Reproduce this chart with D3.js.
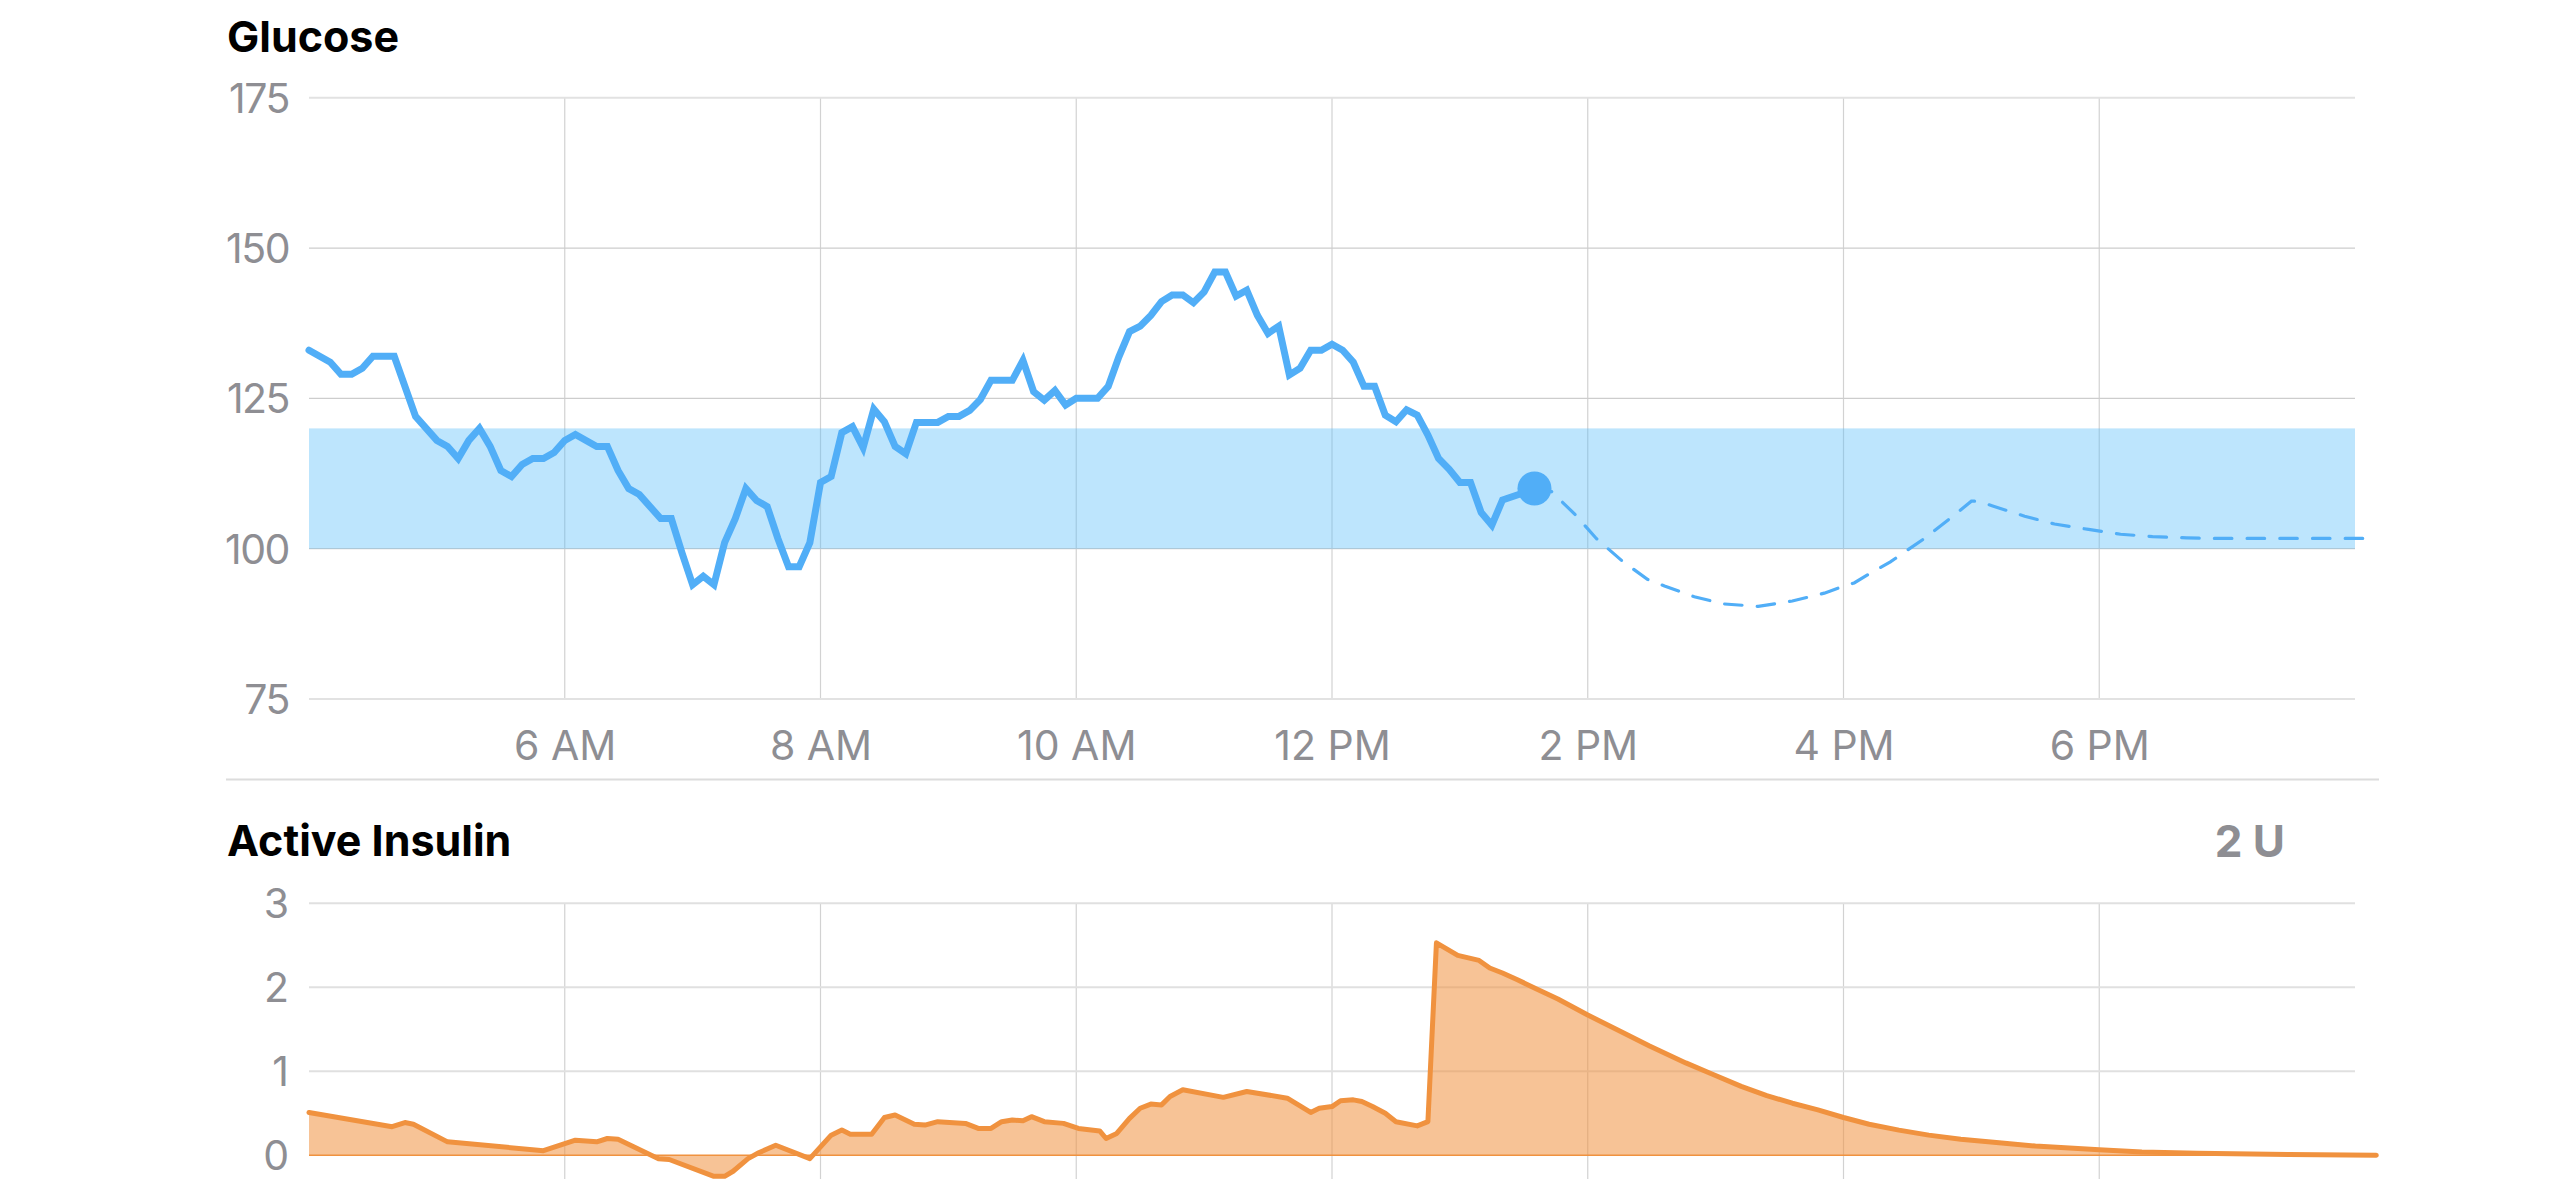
<!DOCTYPE html>
<html>
<head>
<meta charset="utf-8">
<script src="https://cdn.jsdelivr.net/npm/d3@7/dist/d3.min.js"></script>
<style>
  html, body { margin: 0; padding: 0; background: #ffffff; }
  svg { display: block; }
  text { font-family: Inter, "Noto Sans", "DejaVu Sans", sans-serif; }
</style>
</head>
<body>
<svg id="chart" width="2556" height="1179"></svg>
<script>
// ---------------- DATA ----------------
const glucoseTimes = ["04:00","04:10","04:15","04:20","04:25","04:30","04:35","04:40","04:50","05:00",
  "05:05","05:10","05:15","05:20","05:25","05:30","05:35","05:40","05:45","05:50",
  "05:55","06:00","06:05","06:15","06:20","06:25","06:30","06:35","06:45","06:50",
  "06:55","07:00","07:05","07:10","07:15","07:20","07:25","07:30","07:35","07:40",
  "07:45","07:50","07:55","08:00","08:05","08:10","08:15","08:20","08:25","08:30",
  "08:35","08:40","08:45","08:55","09:00","09:05","09:10","09:15","09:20","09:30",
  "09:35","09:40","09:45","09:50","09:55","10:00","10:10","10:15","10:20","10:25",
  "10:30","10:35","10:40","10:45","10:50","10:55","11:00","11:05","11:10","11:15",
  "11:20","11:25","11:30","11:35","11:40","11:45","11:50","11:55","12:00","12:05",
  "12:10","12:15","12:20","12:25","12:30","12:35","12:40","12:45","12:50","12:55",
  "13:00","13:05","13:10","13:15","13:20","13:30","13:35"];
const glucoseValues = [133,131,129,129,130,132,132,132,122,118,
  117,115,118,120,117,113,112,114,115,115,
  116,118,119,117,117,113,110,109,105,105,
  99.3,94,95.4,94,101,105,110,108,107,101.7,
  97,97,101,111,112,119.3,120.3,116.8,123.2,121.1,
  117,115.8,121,121,122,122,123,124.8,128,128,
  131.3,126.1,124.7,126.3,123.9,125,125,127,131.9,136.1,
  137,138.8,141.1,142.2,142.2,140.9,142.7,146,146,142,
  143,138.8,135.8,137,128.9,130,133,133,134,133,
  131,127,127,122.2,121.1,123.1,122.2,118.9,115,113.2,
  111,111,106,103.9,108.1,109.3,110];

const predictionTimes = ["13:35","13:43","13:54","14:04","14:16","14:28","14:36","14:50","15:04","15:20",
  "15:36","15:51","15:58","16:05","16:12","16:22","16:31","16:38","16:51","17:00",
  "17:03","17:10","17:25","17:39","17:55","18:10","18:25","18:41","18:55","20:07"];
const predictionValues = [110,109.5,105.7,101.7,98.0,94.9,93.8,92.0,90.8,90.4,
  91.3,92.6,93.5,94.3,95.8,97.8,100.0,101.7,105.3,107.9,
  107.9,107.1,105.4,104.1,103.2,102.4,102.0,101.8,101.7,101.7];

const insulinTimes = ["04:00","04:39","04:45","04:49","05:05","05:50","06:05","06:15","06:20","06:25",
  "06:44","06:49","07:10","07:15","07:19","07:26","07:31","07:39","07:55","08:05",
  "08:10","08:14","08:24","08:30","08:35","08:44","08:49","08:55","09:08","09:14",
  "09:20","09:25","09:30","09:35","09:39","09:45","09:54","10:01","10:11","10:14",
  "10:19","10:25","10:30","10:35","10:40","10:44","10:50","11:09","11:20","11:39",
  "11:50","11:54","12:00","12:04","12:10","12:14","12:19","12:25","12:30","12:40",
  "12:45","12:49","12:59","13:09","13:14","13:20","13:27","13:36","13:46","14:00",
  "14:15","14:29","14:46","14:58","15:12","15:24","15:36","15:48","16:00","16:12",
  "16:26","16:40","16:55","17:13","17:30","17:44","18:00","18:20","18:46","19:29","20:10"];
const insulinValues = [0.51,0.34,0.39,0.37,0.16,0.055,0.18,0.16,0.20,0.19,
  -0.04,-0.05,-0.25,-0.25,-0.19,-0.04,0.03,0.12,-0.04,0.24,
  0.30,0.25,0.25,0.45,0.48,0.37,0.36,0.40,0.38,0.32,
  0.32,0.40,0.42,0.41,0.46,0.40,0.38,0.32,0.29,0.20,
  0.26,0.44,0.56,0.61,0.60,0.70,0.78,0.69,0.76,0.68,
  0.51,0.56,0.58,0.65,0.66,0.64,0.58,0.50,0.40,0.35,
  0.40,2.53,2.38,2.32,2.23,2.17,2.09,1.98,1.86,1.67,
  1.48,1.30,1.10,0.97,0.82,0.71,0.62,0.54,0.45,0.37,
  0.30,0.24,0.19,0.15,0.11,0.09,0.065,0.04,0.025,0.01,0.0];

const timeDomain = ["04:00","20:00"];
const xTickTimes = ["06:00","08:00","10:00","12:00","14:00","16:00","18:00"];
const xTickLabels = ["6 AM","8 AM","10 AM","12 PM","2 PM","4 PM","6 PM"];
const glucoseTicks = [75,100,125,150,175];
const glucoseDomain = [75,175];
const targetRange = [100,120];
const insulinTicks = [0,1,2,3];
const insulinDomain = [0,3];
const currentTime = "13:35";
const currentGlucose = 110;
const glucoseTitle = "Glucose";
const insulinTitle = "Active Insulin";
const insulinSummary = "2 U";

// ---------------- LAYOUT ----------------
const parse = d3.timeParse("%H:%M");
const svg = d3.select("#chart");
const plotLeft = 309, plotRight = 2355;
const gTop = 97.7, gBottom = 699;
const iTop = 903.3, iBottom = 1155.3;

const x = d3.scaleTime().domain(timeDomain.map(parse)).range([plotLeft, plotRight]);
const yG = d3.scaleLinear().domain(glucoseDomain).range([gBottom, gTop]);
const yI = d3.scaleLinear().domain(insulinDomain).range([iBottom, iTop]);

const blue = "#51aef7";
const orange = "#f0923f";
const gray = "#8e8e93";

// ---------- Glucose panel ----------
svg.append("text").attr("x", 227).attr("y", 52)
  .attr("font-size", 43).attr("font-weight", 700).attr("fill", "#000")
  .text(glucoseTitle);

// vertical grid
svg.append("g").selectAll("line").data(xTickTimes).join("line")
  .attr("x1", d => x(parse(d))).attr("x2", d => x(parse(d)))
  .attr("y1", gTop).attr("y2", gBottom)
  .attr("stroke", "#d2d2d2").attr("stroke-width", 1.2);

// horizontal grid
svg.append("g").selectAll("line").data(glucoseTicks).join("line")
  .attr("x1", plotLeft).attr("x2", plotRight)
  .attr("y1", d => yG(d)).attr("y2", d => yG(d))
  .attr("stroke", d => (d === glucoseDomain[0] || d === glucoseDomain[1]) ? "#e2e2e2" : "#cdcdcd")
  .attr("stroke-width", d => (d === glucoseDomain[0] || d === glucoseDomain[1]) ? 2 : 1.3);

// target band
svg.append("rect")
  .attr("x", plotLeft).attr("width", plotRight - plotLeft)
  .attr("y", yG(targetRange[1])).attr("height", yG(targetRange[0]) - yG(targetRange[1]))
  .attr("fill", "rgb(90,190,250)").attr("fill-opacity", 0.4);

// y labels
svg.append("g").selectAll("text").data(glucoseTicks).join("text")
  .attr("x", 289).attr("y", d => yG(d) + 15)
  .attr("text-anchor", "end").attr("font-size", 41).attr("fill", gray)
  .attr("letter-spacing", -1.5)
  .text(d => d);

// x axis labels
const xAxis = d3.axisBottom(x)
  .tickValues(xTickTimes.map(parse))
  .tickFormat((d, i) => xTickLabels[i])
  .tickSize(0).tickPadding(0);
const gx = svg.append("g").attr("transform", `translate(0,${gBottom})`).call(xAxis);
gx.select(".domain").remove();
gx.selectAll("text").attr("font-size", 41).attr("fill", gray)
  .attr("font-family", "Inter, 'Noto Sans', sans-serif")
  .attr("dy", null).attr("y", 61);

// prediction line (dashed)
const gLine = d3.line().x(d => x(parse(d[0]))).y(d => yG(d[1]));
svg.append("path")
  .datum(predictionTimes.map((t, i) => [t, predictionValues[i]]))
  .attr("d", gLine)
  .attr("fill", "none").attr("stroke", blue).attr("stroke-width", 3.2)
  .attr("stroke-dasharray", "17.5 15.2").attr("stroke-linecap", "round");

// glucose line
svg.append("path")
  .datum(glucoseTimes.map((t, i) => [t, glucoseValues[i]]))
  .attr("d", gLine)
  .attr("fill", "none").attr("stroke", blue).attr("stroke-width", 7)
  .attr("stroke-linejoin", "miter").attr("stroke-miterlimit", 3)
  .attr("stroke-linecap", "round");

// current dot
svg.append("circle")
  .attr("cx", x(parse(currentTime))).attr("cy", yG(currentGlucose))
  .attr("r", 17).attr("fill", blue);

// separator
svg.append("line").attr("x1", 226).attr("x2", 2379)
  .attr("y1", 779.5).attr("y2", 779.5)
  .attr("stroke", "#dcdcdc").attr("stroke-width", 2);

// ---------- Insulin panel ----------
svg.append("text").attr("x", 227).attr("y", 856)
  .attr("font-size", 43).attr("font-weight", 700).attr("fill", "#000")
  .text(insulinTitle);
svg.append("text").attr("x", 2285).attr("y", 857)
  .attr("text-anchor", "end")
  .attr("font-size", 44).attr("font-weight", 700).attr("fill", gray)
  .text(insulinSummary);

svg.append("g").selectAll("line").data(xTickTimes).join("line")
  .attr("x1", d => x(parse(d))).attr("x2", d => x(parse(d)))
  .attr("y1", iTop).attr("y2", 1179)
  .attr("stroke", "#d2d2d2").attr("stroke-width", 1.2);

svg.append("g").selectAll("line").data(insulinTicks.filter(d => d !== 0)).join("line")
  .attr("x1", plotLeft).attr("x2", plotRight)
  .attr("y1", d => yI(d)).attr("y2", d => yI(d))
  .attr("stroke", "#e0e0e0").attr("stroke-width", 2);

svg.append("g").selectAll("text").data(insulinTicks).join("text")
  .attr("x", 289).attr("y", d => yI(d) + 15)
  .attr("text-anchor", "end").attr("font-size", 41).attr("fill", gray)
  .text(d => d);

const insData = insulinTimes.map((t, i) => [t, insulinValues[i]]);
const area = d3.area().x(d => x(parse(d[0]))).y0(yI(0)).y1(d => yI(d[1]));
svg.append("path").datum(insData).attr("d", area)
  .attr("fill", orange).attr("fill-opacity", 0.55);

// zero line
svg.append("line").attr("x1", plotLeft).attr("x2", x(parse(insulinTimes[insulinTimes.length - 1])))
  .attr("y1", yI(0)).attr("y2", yI(0))
  .attr("stroke", orange).attr("stroke-width", 1.6);

const insLine = d3.line().x(d => x(parse(d[0]))).y(d => yI(d[1]));
svg.append("path").datum(insData).attr("d", insLine)
  .attr("fill", "none").attr("stroke", orange).attr("stroke-width", 5)
  .attr("stroke-linejoin", "round").attr("stroke-linecap", "round");
</script>
</body>
</html>
